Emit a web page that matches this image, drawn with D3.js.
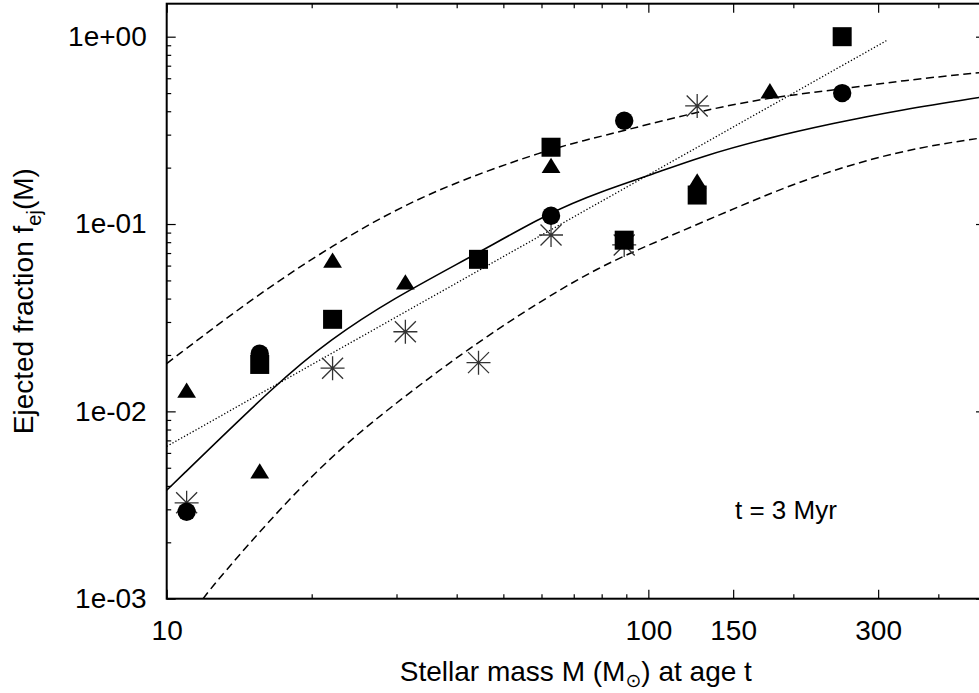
<!DOCTYPE html>
<html>
<head>
<meta charset="utf-8">
<script src="https://cdn.jsdelivr.net/npm/d3@7"></script>
<style>
  body { margin: 0; background: #fff; }
  svg { display: block; }
  text { font-family: "Liberation Sans", Arial, Helvetica, sans-serif; fill: #000; }
</style>
</head>
<body>
<svg id="chart" width="979" height="693"></svg>
<script>
// stellar masses where the runs were sampled
var masses = [11.0, 15.6, 22.1, 31.3, 44.4, 62.8, 89.1, 126.3, 178.8, 252.6]

// ejected fractions for each point type (null = no point)
var circleVals   = [0.00291, 0.0203, null, null, null, 0.1107, 0.356, null, null, 0.5]
var squareVals   = [null, 0.0178, 0.031, null, 0.0648, 0.257, 0.082, 0.1428, null, 1.0]
var triangleVals = [0.0126, 0.00467, 0.0624, 0.0477, null, 0.2, null, 0.165, 0.5, null]
var asteriskVals = [0.00325, null, 0.017, 0.0266, 0.0182, 0.0874, 0.0773, 0.427, null, null]

// solid fit curve
var fitMass = [10, 17.2, 21.8, 29.1, 44.3, 62.8, 79.6, 101.1, 128.3, 176, 242, 333, 500]
var fitVals = [0.00379, 0.0147, 0.0240, 0.0393, 0.0700, 0.1164, 0.1487, 0.1827, 0.2287, 0.2869, 0.3448, 0.4062, 0.479]

// upper dashed band
var upperMass = [10, 14.9, 21.8, 34.1, 62.6, 79.6, 126, 178.8, 253.8, 332.9, 500]
var upperVals = [0.0180, 0.0393, 0.0757, 0.1459, 0.2535, 0.2924, 0.3977, 0.4749, 0.525, 0.5822, 0.647]

// lower dashed band
var lowerMass = [11.9, 12.9, 20.5, 31.0, 44.8, 66.6, 87.3, 128.3, 206.4, 332.9, 500]
var lowerVals = [0.001, 0.00131, 0.00506, 0.01197, 0.02404, 0.04624, 0.0668, 0.1009, 0.1718, 0.2483, 0.290]

// dotted power law
var powerMass = [10, 312]
var powerVals = [0.0065, 0.952]

var xMajorTicks = [10, 100, 150, 300]
var xTickLabels = ["10", "100", "150", "300"]
var xMinorTicks = [20, 30, 40, 50, 60, 70, 80, 90, 200, 400]
var yMajorTicks = [0.001, 0.01, 0.1, 1]
var yTickLabels = ["1e-03", "1e-02", "1e-01", "1e+00"]

// plot box (right edge lies just outside the picture)
var pLeft = 166.7, pRight = 985, pTop = 3.7, pBottom = 598.7

var svg = d3.select("#chart")

var x = d3.scaleLog().domain([10, 500]).range([pLeft, pRight])
var y = d3.scaleLog().domain([0.001, 1.5]).range([pBottom, pTop])

var yMinorTicks = y.ticks().filter(function(d) {
    return yMajorTicks.indexOf(d) < 0 && d <= 1.5
})

svg.append("clipPath").attr("id", "plotclip")
    .append("rect")
    .attr("x", pLeft).attr("y", pTop)
    .attr("width", pRight - pLeft).attr("height", pBottom - pTop)

// ticks (all pointing inwards, mirrored on top and right)
function styleAxis(g) {
    g.select(".domain").remove()
    g.selectAll("line").attr("stroke", "#000").attr("stroke-width", 1.2)
    g.selectAll("text").attr("font-size", 28).attr("fill", "#000")
        .attr("font-family", "Liberation Sans, Arial, Helvetica, sans-serif")
}

svg.append("g").attr("transform", "translate(0," + pBottom + ")")
    .call(d3.axisBottom(x).tickValues(xMajorTicks).tickSize(-9).tickPadding(21)
        .tickFormat(function(d, i) { return xTickLabels[i] }))
    .call(styleAxis)
svg.append("g").attr("transform", "translate(0," + pBottom + ")")
    .call(d3.axisBottom(x).tickValues(xMinorTicks).tickSize(-4.5).tickFormat(""))
    .call(styleAxis)
svg.append("g").attr("transform", "translate(0," + pTop + ")")
    .call(d3.axisTop(x).tickValues(xMajorTicks).tickSize(-9).tickFormat(""))
    .call(styleAxis)
svg.append("g").attr("transform", "translate(0," + pTop + ")")
    .call(d3.axisTop(x).tickValues(xMinorTicks).tickSize(-4.5).tickFormat(""))
    .call(styleAxis)

svg.append("g").attr("transform", "translate(" + pLeft + ",0)")
    .call(d3.axisLeft(y).tickValues(yMajorTicks).tickSize(-9).tickPadding(20)
        .tickFormat(function(d, i) { return yTickLabels[i] }))
    .call(styleAxis)
svg.append("g").attr("transform", "translate(" + pLeft + ",0)")
    .call(d3.axisLeft(y).tickValues(yMinorTicks).tickSize(-4.5).tickFormat(""))
    .call(styleAxis)
svg.append("g").attr("transform", "translate(" + pRight + ",0)")
    .call(d3.axisRight(y).tickValues(yMajorTicks).tickSize(-9).tickFormat(""))
    .call(styleAxis)
svg.append("g").attr("transform", "translate(" + pRight + ",0)")
    .call(d3.axisRight(y).tickValues(yMinorTicks).tickSize(-4.5).tickFormat(""))
    .call(styleAxis)

// curves
var plot = svg.append("g").attr("clip-path", "url(#plotclip)")

function curve(ms, vs, dash, w) {
    var pts = ms.map(function(m, i) { return [m, vs[i]] })
    plot.append("path")
        .datum(pts)
        .attr("fill", "none")
        .attr("stroke", "#000")
        .attr("stroke-width", w)
        .attr("stroke-dasharray", dash)
        .attr("d", d3.line()
            .x(function(d) { return x(d[0]) })
            .y(function(d) { return y(d[1]) })
            .curve(d3.curveBasis))
}

curve(fitMass, fitVals, null, 1.6)
curve(upperMass, upperVals, "8,4.5", 1.5)
curve(lowerMass, lowerVals, "8,4.5", 1.5)
curve(powerMass, powerVals, "1.3,2", 1.3)

// points
function pointsOf(vals) {
    return masses.map(function(m, i) { return { m: m, f: vals[i] } })
        .filter(function(d) { return d.f != null })
}

plot.selectAll(".ast")
    .data(pointsOf(asteriskVals))
    .join("path")
    .attr("class", "ast")
    .attr("fill", "none")
    .attr("stroke", "#333")
    .attr("stroke-width", 1.3)
    .attr("d", function(d) {
        var cx = x(d.m), cy = y(d.f), r = 12, q = 10.5
        return "M" + (cx - r) + "," + cy + "H" + (cx + r) +
            "M" + cx + "," + (cy - r) + "V" + (cy + r) +
            "M" + (cx - q) + "," + (cy - q) + "L" + (cx + q) + "," + (cy + q) +
            "M" + (cx - q) + "," + (cy + q) + "L" + (cx + q) + "," + (cy - q)
    })

plot.selectAll(".tri")
    .data(pointsOf(triangleVals))
    .join("path")
    .attr("class", "tri")
    .attr("fill", "#000")
    .attr("d", function(d) {
        var cx = x(d.m), cy = y(d.f)
        return "M" + cx + "," + (cy - 10) + "L" + (cx + 9.4) + "," + (cy + 5.3) +
            "L" + (cx - 9.4) + "," + (cy + 5.3) + "Z"
    })

plot.selectAll(".sq")
    .data(pointsOf(squareVals))
    .join("rect")
    .attr("class", "sq")
    .attr("fill", "#000")
    .attr("x", function(d) { return x(d.m) - 9.5 })
    .attr("y", function(d) { return y(d.f) - 9.5 })
    .attr("width", 19)
    .attr("height", 19)

plot.selectAll(".circ")
    .data(pointsOf(circleVals))
    .join("circle")
    .attr("class", "circ")
    .attr("fill", "#000")
    .attr("cx", function(d) { return x(d.m) })
    .attr("cy", function(d) { return y(d.f) })
    .attr("r", 9.2)

// frame
svg.append("rect")
    .attr("x", pLeft).attr("y", pTop)
    .attr("width", pRight - pLeft).attr("height", pBottom - pTop)
    .attr("fill", "none")
    .attr("stroke", "#000")
    .attr("stroke-width", 2)

// labels
var xl = svg.append("text")
    .attr("x", (pLeft + pRight) / 2)
    .attr("y", 681)
    .attr("text-anchor", "middle")
    .attr("font-size", 28)
xl.append("tspan").text("Stellar mass M (M")
xl.append("tspan").attr("font-size", 19).attr("dy", 6)
    .attr("font-family", "DejaVu Sans, sans-serif").text("\u2299")
xl.append("tspan").attr("dy", -6).text(") at age t")

var yl = svg.append("text")
    .attr("transform", "translate(33," + ((pTop + pBottom) / 2) + ") rotate(-90)")
    .attr("text-anchor", "middle")
    .attr("font-size", 28)
yl.append("tspan").text("Ejected fraction f")
yl.append("tspan").attr("font-size", 20).attr("dy", 8).text("ej")
yl.append("tspan").attr("dy", -8).text("(M)")

svg.append("text")
    .attr("x", 735)
    .attr("y", 519)
    .attr("font-size", 26)
    .text("t = 3 Myr")
</script>
</body>
</html>
